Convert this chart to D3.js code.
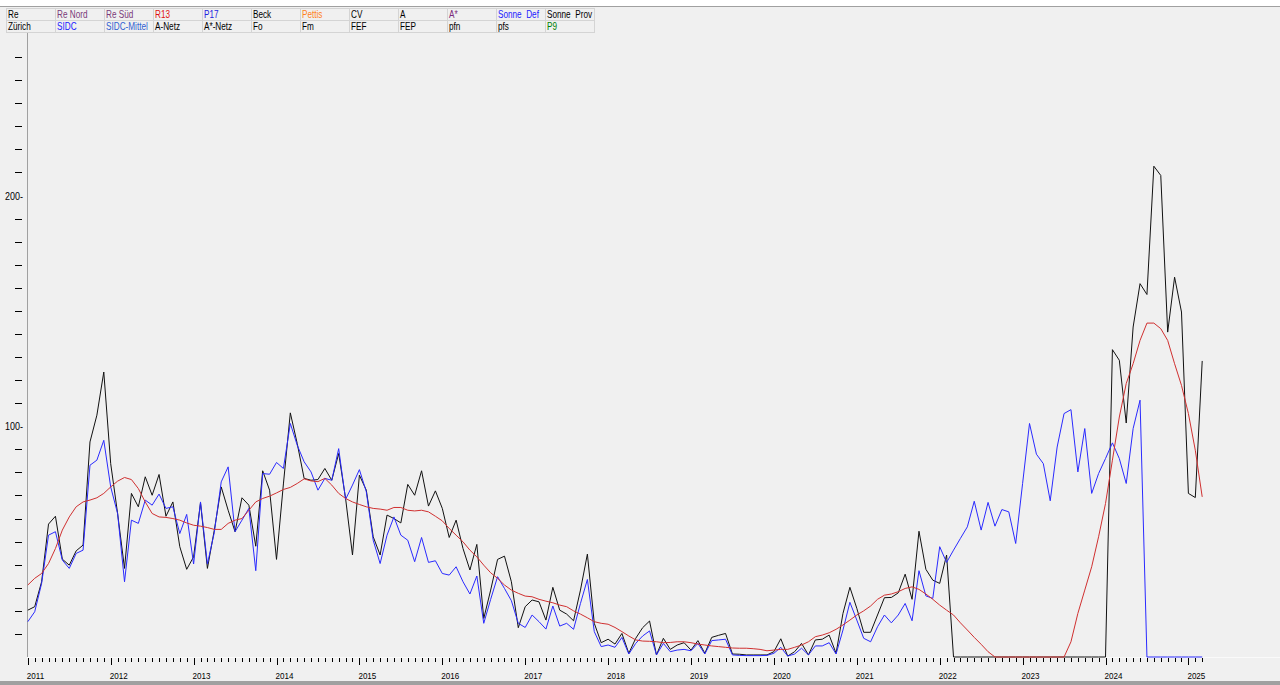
<!DOCTYPE html>
<html><head><meta charset="utf-8">
<script src="https://cdn.jsdelivr.net/npm/d3@7"></script>
<style>
html,body{margin:0;padding:0;background:#f0f0f0;overflow:hidden}
svg{display:block}
text{font-family:"Liberation Sans",Arial,sans-serif;white-space:pre}
</style></head><body>
<svg id="c" width="1280" height="685"></svg>
<script>
// ---- legend header ----
const headerRow1 = ["Re","Re Nord","Re Süd","R13","P17","Beck","Pettis","CV","A","A*","Sonne  Def","Sonne  Prov"];
const headerRow1Colors = ["#000000","#7a3a7a","#7a3a7a","#e01010","#2020e0","#000000","#ff8020","#000000","#000000","#7a2a7a","#2020ff","#000000"];
const headerRow2 = ["Zürich","SIDC","SIDC-Mittel","A-Netz","A*-Netz","Fo","Fm","FEF","FEP","pfn","pfs","P9"];
const headerRow2Colors = ["#000000","#2020ff","#3060d0","#000000","#000000","#000000","#000000","#000000","#000000","#000000","#000000","#008000"];

// ---- categories: months Jan 2011 .. Mar 2025 ----
const months = d3.timeMonth.range(new Date(2011, 0, 1), new Date(2025, 3, 1));
const yearLabels = ["2011","2012","2013","2014","2015","2016","2017","2018","2019","2020","2021","2022","2023","2024","2025"];
const yTickValues = [10,20,30,40,50,60,70,80,90,100,110,120,130,140,150,160,170,180,190,200,210,220,230,240,250,260];
const yLabelValues = [100, 200];

// ---- series (monthly) ----
const zurich = [
20.3,21.8,32.6,57.6,61.0,42.4,39.8,46.0,48.5,93.2,104.8,123.5,
83.8,62.2,38.4,70.9,65.1,78.1,70.1,79.1,61.0,67.2,47.8,38.0,
43.4,66.8,38.4,55.0,73.7,63.6,54.3,69.0,65.8,48.0,80.7,72.3,
42.3,75.0,105.8,92.5,77.4,76.6,76.9,81.7,76.6,88.2,68.7,44.2,
78.8,72.3,52.1,44.2,61.5,60.0,58.1,74.8,70.1,80.7,65.4,72.0,
64.4,51.8,59.3,47.0,37.7,48.8,16.7,29.0,42.3,43.7,32.6,12.7,
21.8,24.7,23.9,16.0,30.2,20.3,18.6,15.7,29.0,44.6,14.6,6.2,
7.7,5.6,10.2,1.6,8.1,12.7,15.6,0.9,8.1,3.3,5.2,6.2,
3.0,7.1,1.6,8.5,9.4,10.2,1.3,1.2,0.9,0.9,0.9,0.9,
2.3,7.9,0.4,2.3,5.9,0.9,7.4,7.7,9.5,1.6,18.9,30.2,
21.1,10.7,10.7,18.2,25.7,25.8,27.8,35.9,25.0,54.5,38.0,33.3,
31.9,44.2,0,0,0,0,0,0,0,0,0,0,
0,0,0,0,0,0,0,0,0,0,0,0,
0,133.2,128.6,101.4,143.0,161.8,157.1,212.7,208.7,140.8,164.6,149.5,
70.9,69.1,128.3
];
const sidc = [
15.3,19.6,31.9,52.8,54.3,42.0,38.4,44.9,46.3,83.1,85.3,93.9,
73.7,62.2,32.6,59.3,57.9,68.0,65.8,70.6,64.4,65.1,53.5,61.8,
40.3,67.2,40.3,54.0,75.9,82.4,54.3,59.3,64.4,37.4,79.5,79.2,
84.3,81.7,101.2,91.8,84.6,80.2,72.3,77.4,76.6,90.3,68.3,74.5,
81.2,71.6,50.6,40.5,52.8,60.7,52.8,50.6,41.3,51.8,41.0,41.7,
36.2,35.5,39.1,32.6,27.3,35.1,14.6,25.0,34.8,29.7,24.4,14.6,
12.8,18.2,15.3,12.1,22.1,13.4,14.6,12.0,23.2,33.6,11.0,4.5,
5.2,4.2,8.5,1.3,5.9,9.1,11.3,0.9,5.9,2.3,3.0,3.3,
2.7,5.9,1.3,7.1,7.4,7.7,0.9,0.7,0.6,0.6,0.6,0.7,
1.6,4.2,0.4,1.3,3.8,0.9,4.8,4.8,6.2,1.3,11.7,23.7,
16.0,8.1,6.6,13.1,18.2,14.8,18.2,23.2,15.7,37.4,26.5,25.4,
47.8,41.0,46.3,51.4,56.4,67.5,55.0,67.0,56.7,63.9,62.9,49.2,
75.2,101.2,87.9,83.8,67.7,91.0,105.5,107.2,80.2,99.0,70.9,79.5,
86.0,92.8,86.0,75.2,99.0,111.3,0,0,0,0,0,0,
0,0,0
];
const smoothed = [
31.2,34.1,36.2,40.5,47.0,55.0,60.7,65.1,67.2,68.0,69.0,70.9,
73.7,76.2,77.8,76.9,73.0,67.2,62.2,60.7,60.5,60.0,59.3,58.1,
57.1,56.7,56.1,55.3,55.3,57.9,59.3,60.0,63.6,67.2,68.7,69.7,
71.1,72.6,73.5,75.2,77.2,76.3,76.0,77.4,74.5,70.9,68.7,67.2,
66.1,65.1,64.4,64.1,63.6,64.8,64.8,63.6,63.3,63.6,62.9,61.0,
59.0,55.7,52.8,49.9,46.3,43.4,39.8,36.5,34.1,31.2,29.0,27.6,
26.4,26.1,25.0,24.2,23.5,22.5,21.8,20.0,18.6,17.0,15.3,14.6,
14.2,12.8,11.0,9.1,7.4,6.9,6.8,6.6,6.2,6.3,6.6,6.6,
6.2,5.6,5.2,4.8,4.5,4.2,3.9,3.8,3.8,3.6,3.3,2.7,
3.0,3.3,3.3,4.2,5.2,6.6,8.8,9.5,10.5,12.0,13.9,16.0,
18.2,20.0,22.1,25.0,26.8,27.3,28.3,29.7,30.4,29.3,27.3,25.0,
22.5,20.3,18.2,14.8,11.7,8.5,5.5,2.3,0,0,0,0,
0,0,0,0,0,0,0,6.6,18.9,29.0,39.1,52.1,
66.5,85.3,104.0,118.5,127.1,137.2,144.7,144.7,142.3,137.2,127.1,117.7,
105.5,89.6,69.4
];

// ---- layout ----
const W = 1280, H = 685;
const svg = d3.select("#c");
const x = d3.scaleLinear().domain([0, 168]).range([27.8, 1188.4]);
const y = d3.scaleLinear().domain([0, 200]).range([657, 195.5]);

// narrow text helper (horizontal compression of a regular sans face)
function ntext(g, tx, ty, str, size, fill, sx, anchor) {
  return g.append("text")
    .attr("transform", `translate(${tx},${ty}) scale(${sx},1)`)
    .attr("font-size", size).attr("fill", fill)
    .attr("text-anchor", anchor || "start").text(str);
}

// background
svg.append("rect").attr("width", W).attr("height", H).attr("fill", "#f0f0f0");
svg.append("rect").attr("width", W).attr("height", 6).attr("fill", "#ffffff");
svg.append("line").attr("x1", 0).attr("x2", W).attr("y1", 6.5).attr("y2", 6.5).attr("stroke", "#a0a0a0");

// header table
const colW = 49, tx0 = 6, rowTop = 8, rowH = 12;
const hdr = svg.append("g");
[headerRow1, headerRow2].forEach((row, r) => {
  const colors = r === 0 ? headerRow1Colors : headerRow2Colors;
  row.forEach((t, c) => {
    hdr.append("rect").attr("x", tx0 + c * colW + 0.5).attr("y", rowTop + r * rowH + 0.5)
      .attr("width", colW).attr("height", rowH).attr("fill", "#f0f0f0").attr("stroke", "#d4d4d4");
  });
  row.forEach((t, c) => {
    ntext(hdr, tx0 + c * colW + 2, rowTop + r * rowH + 9.5, t, 10, colors[c], 0.82);
  });
});

// y axis
svg.append("line").attr("x1", 27.5).attr("x2", 27.5).attr("y1", 33).attr("y2", 657)
  .attr("stroke", "#a0a0a0");
const yg = svg.append("g");
yTickValues.forEach(v => {
  const py = Math.round(y(v));
  if (yLabelValues.includes(v)) {
    ntext(yg, 23, py + 3.5, v + "-", 10, "#000", 0.9, "end");
  } else {
    yg.append("line").attr("x1", 15).attr("x2", 22).attr("y1", py + 0.5).attr("y2", py + 0.5)
      .attr("stroke", "#000");
  }
});

// x axis
svg.append("line").attr("x1", 27).attr("x2", W).attr("y1", 657.5).attr("y2", 657.5).attr("stroke", "#fafafa");
const xg = svg.append("g");
months.forEach((m, i) => {
  const major = m.getMonth() === 0;
  const px = Math.round(x(i)) + 0.5;
  xg.append("line").attr("x1", px).attr("x2", px).attr("y1", 658).attr("y2", major ? 665 : 662)
    .attr("stroke", "#000");
});
yearLabels.forEach((lab, k) => {
  ntext(xg, x(k * 12) - 1, 679, lab, 9.5, "#000", 0.85);
});
// bottom band
svg.append("rect").attr("x", 0).attr("y", 681).attr("width", W).attr("height", 4).attr("fill", "#a0a0a0");

// series lines
const line = d3.line().x((d, i) => x(i)).y(d => y(d));
svg.append("path").datum(zurich).attr("d", line).attr("fill", "none").attr("stroke", "#111").attr("stroke-width", 1);
svg.append("path").datum(sidc).attr("d", line).attr("fill", "none").attr("stroke", "#2a2aff").attr("stroke-width", 1);
svg.append("path").datum(smoothed).attr("d", line).attr("fill", "none").attr("stroke", "#d03030").attr("stroke-width", 1);
</script>
</body></html>
